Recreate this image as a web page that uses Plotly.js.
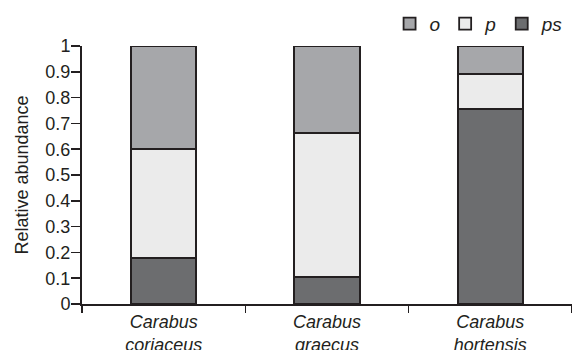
<!DOCTYPE html>
<html>
<head>
<meta charset="utf-8">
<script src="https://cdn.plot.ly/plotly-3.0.1.min.js"></script>
<style>
html,body{margin:0;padding:0;background:#fff;}
#chart{width:572px;height:350px;}
</style>
</head>
<body>
<div id="chart"></div>
<script>
var categories = ['Carabus coriaceus', 'Carabus graecus', 'Carabus hortensis'];
var seriesNames = ['ps', 'p', 'o'];
var psValues = [0.177, 0.105, 0.755];
var pValues = [0.423, 0.559, 0.136];
var oValues = [0.400, 0.336, 0.109];
var yTickValues = [0, 0.1, 0.2, 0.3, 0.4, 0.5, 0.6, 0.7, 0.8, 0.9, 1];

var colors = {ps: '#6c6d6f', p: '#ebebeb', o: '#a6a7aa'};
var seriesValues = {ps: psValues, p: pValues, o: oValues};
var tickText = categories.map(function (c) { return c.replace(' ', '<br>'); });

var traces = seriesNames.map(function (name) {
  return {
    type: 'bar',
    name: name,
    x: categories,
    y: seriesValues[name],
    marker: {color: colors[name], line: {color: '#231f20', width: 1.8}},
    hoverinfo: 'none'
  };
});

var font = 'Liberation Sans, Arial, sans-serif';
var layout = {
  width: 572,
  height: 350,
  margin: {l: 82, r: 0, t: 46, b: 45.5, pad: 0},
  barmode: 'stack',
  bargap: 0.6,
  paper_bgcolor: '#ffffff',
  plot_bgcolor: '#ffffff',
  showlegend: true,
  legend: {
    orientation: 'h',
    x: 0.993, xanchor: 'right',
    y: 1.086, yanchor: 'middle',
    traceorder: 'reversed',
    font: {family: font, size: 19, color: '#231f20', style: 'italic'},
    itemclick: false
  },
  xaxis: {
    type: 'category',
    tickmode: 'array',
    tickvals: categories,
    ticktext: tickText,
    tickson: 'boundaries',
    ticks: 'outside',
    ticklen: 7,
    tickwidth: 1.5,
    tickcolor: '#231f20',
    showline: true,
    linecolor: '#231f20',
    linewidth: 2,
    showgrid: false,
    zeroline: false,
    tickfont: {family: font, size: 18, color: '#231f20', style: 'italic'},
    automargin: false
  },
  yaxis: {
    range: [0, 1],
    tickmode: 'array',
    tickvals: yTickValues,
    ticktext: yTickValues.map(String),
    ticks: 'outside',
    ticklen: 9,
    tickwidth: 1.5,
    tickcolor: '#231f20',
    ticklabelstandoff: -3,
    showline: true,
    linecolor: '#231f20',
    linewidth: 2,
    showgrid: false,
    zeroline: false,
    tickfont: {family: font, size: 18, color: '#231f20'},
    title: {text: 'Relative abundance', font: {family: font, size: 18, color: '#231f20'}, standoff: 12},
    automargin: false
  }
};

Plotly.newPlot('chart', traces, layout, {staticPlot: true, displayModeBar: false});
</script>
</body>
</html>
